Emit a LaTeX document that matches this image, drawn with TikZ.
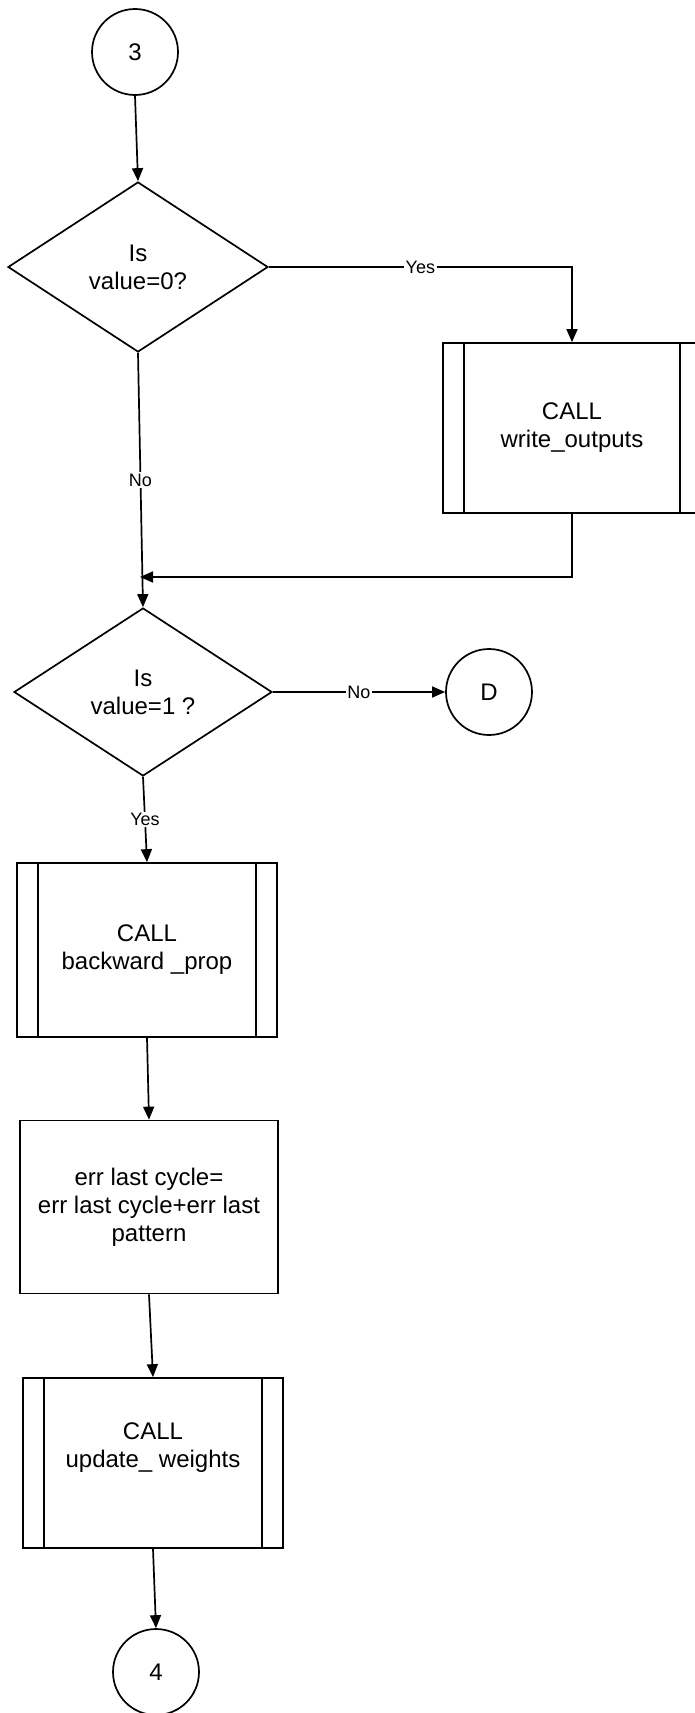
\documentclass[tikz,border=0pt]{standalone}
\usepackage{fontspec}
\setmainfont{Liberation Sans}
\usetikzlibrary{arrows.meta, shapes.geometric, positioning}

\begin{document}
\begin{tikzpicture}[
    x=1pt, y=-1pt,
    every node/.style={font=\fontsize{24}{28}\selectfont},
    line/.style={line width=1.7pt},
    arr/.style={line, -{Triangle[length=13pt, width=11pt]}},
    con/.style={draw, line width=1.7pt, circle, minimum size=86pt, inner sep=0pt},
    decision/.style={draw, line width=1.7pt, diamond, minimum width=260pt,
                     minimum height=170pt, inner sep=0pt, align=center},
    procbox/.style={draw, line width=1.7pt, rectangle, minimum width=258pt,
                    minimum height=173pt, align=center},
    subr/.style={procbox, path picture={
        \draw[line width=1.7pt] ([xshift=21pt]path picture bounding box.north west)
            -- ([xshift=21pt]path picture bounding box.south west);
        \draw[line width=1.7pt] ([xshift=-21pt]path picture bounding box.north east)
            -- ([xshift=-21pt]path picture bounding box.south east);}},
    lbl/.style={fill=white, inner sep=1.5pt, font=\fontsize{18}{21}\selectfont},
]
    \useasboundingbox (0,0) rectangle (694,1713);

    % Entry connector and first test.
    \node[con] (con3) at (135,52) {3};
    \node[decision] (isZero) at (138,267) {Is\\value=0?};

    % Subroutine on the Yes branch.
    \node[subr, minimum width=258pt, minimum height=170pt] (writeOut) at (572,428)
        {CALL\\write\_outputs};
    \coordinate (merge) at (140,577);

    % Second test.
    \node[decision, minimum width=258pt, minimum height=168pt] (isOne) at (143,692)
        {Is\\value=1 ?};
    \node[con] (conD) at (489,692) {D};

    % Main chain.
    \node[subr, minimum width=260pt, minimum height=174pt] (backProp) at (147,950)
        {CALL\\backward \_prop};
    \node[procbox] (errSum) at (149,1207)
        {err last cycle=\\err last cycle+err last\\pattern};
    \node[subr, minimum width=260pt, minimum height=170pt] (updWeights) at (153,1463)
        {CALL\\update\_ weights\\\strut};
    \node[con] (con4) at (156,1672) {4};

    % Flow arrows.
    \draw[arr] (con3.south) -- (isZero.north);
    \draw[arr] (isZero.east) -| node[lbl, pos=0.25] {Yes} (writeOut.north);
    \draw[arr] (isZero.south) -- node[lbl] {No} (isOne.north);
    \draw[arr] (writeOut.south) |- (merge);
    \draw[arr] (isOne.east) -- node[lbl] {No} (conD.west);
    \draw[arr] (isOne.south) -- node[lbl] {Yes} (backProp.north);
    \draw[arr] (backProp.south) -- (errSum.north);
    \draw[arr] (errSum.south) -- (updWeights.north);
    \draw[arr] (updWeights.south) -- (con4.north);
\end{tikzpicture}
\end{document}
